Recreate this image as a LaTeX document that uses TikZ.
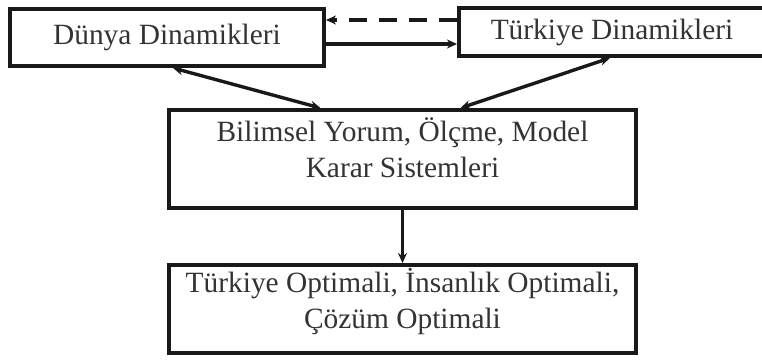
\documentclass[tikz,border=0pt]{standalone}
\usepackage{fontspec}
\setmainfont{Liberation Serif}
\usetikzlibrary{arrows.meta, positioning}

\begin{document}
\begin{tikzpicture}[
  x=0.5pt, y=-0.5pt,
  kutu/.style={rectangle, draw=black!90, line width=2pt, align=center,
    font=\fontsize{14.7}{17.6}\selectfont, text=black!80, inner sep=0pt},
  ok/.style={-{Stealth[length=5pt, width=4.5pt]}, line width=1.7pt, draw=black!90},
  ciftok/.style={{Stealth[length=5pt, width=4.5pt]}-{Stealth[length=5pt, width=4.5pt]},
    line width=1.7pt, draw=black!90},
  kesikok/.style={-{Stealth[length=5pt, width=4.5pt]}, line width=2pt, draw=black!90,
    dash pattern=on 9pt off 6pt}
]
  \useasboundingbox (0,0) rectangle (762,363);

  \node[kutu, minimum width=157pt, minimum height=28.5pt] (dunya) at (167,37.5) {D\"unya Dinamikleri};
  \node[kutu, minimum width=153pt, minimum height=24pt] (turkiye) at (612,32) {T\"urkiye Dinamikleri};
  \node[kutu, minimum width=233.5pt, inner ysep=4pt, text height=29.6pt, text depth=11.4pt]
    (model) at (402.5,159) {Bilimsel Yorum, \"Ol\c{c}me, Model\\Karar Sistemleri};
  \node[kutu, below=26.5pt of model, minimum width=233.5pt, text height=31.6pt, text depth=12.4pt]
    (optimal) {T\"urkiye Optimali, İnsanlık Optimali,\\\c{C}\"oz\"um Optimali};

  \draw[kesikok] ([yshift=6pt]turkiye.west) -- ([yshift=6pt]turkiye.west -| dunya.east);
  \draw[ok] ([yshift=-3.25pt]dunya.east) -- ([yshift=-3.25pt]dunya.east -| turkiye.west);
  \draw[ciftok] ([xshift=3pt]dunya.south) -- ([xshift=-41pt]model.north);
  \draw[ciftok] ([xshift=-1pt]turkiye.south) -- ([xshift=29pt]model.north);
  \draw[ok] (model.south) -- (optimal.north);
\end{tikzpicture}
\end{document}
